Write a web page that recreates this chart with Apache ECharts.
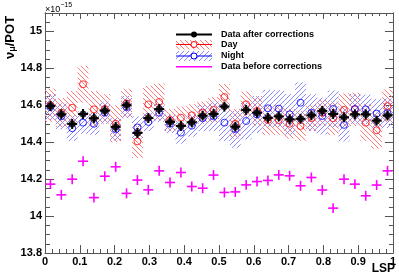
<!DOCTYPE html>
<html><head><meta charset="utf-8">
<script src="https://cdn.jsdelivr.net/npm/echarts@6/dist/echarts.min.js"></script>
<style>html,body{margin:0;padding:0;background:#fff}#c{width:399px;height:278px}</style>
</head><body><div id="c"></div>
<script>
// LSP bin centres (32 bins)
const lsp = [0.015625,0.046875,0.078125,0.109375,0.140625,0.171875,0.203125,0.234375,
  0.265625,0.296875,0.328125,0.359375,0.390625,0.421875,0.453125,0.484375,
  0.515625,0.546875,0.578125,0.609375,0.640625,0.671875,0.703125,0.734375,
  0.765625,0.796875,0.828125,0.859375,0.890625,0.921875,0.953125,0.984375];
const binHalfWidth = 1/64;
// Data after corrections (x1e-15)
const after = [14.596,14.551,14.499,14.553,14.530,14.571,14.483,14.601,14.450,14.531,14.580,14.510,
  14.488,14.508,14.544,14.553,14.593,14.484,14.575,14.560,14.532,14.540,14.524,14.527,
  14.546,14.570,14.553,14.535,14.551,14.551,14.517,14.545];
const afterErr = [0.027,0.027,0.027,0.027,0.027,0.027,0.027,0.027,0.027,0.027,0.027,0.027,
  0.027,0.027,0.027,0.027,0.027,0.027,0.027,0.027,0.027,0.027,0.027,0.027,
  0.027,0.027,0.027,0.027,0.027,0.027,0.027,0.027];
// Day
const day = [14.600,14.560,14.587,14.714,14.578,14.580,14.500,14.610,14.405,14.605,14.618,14.520,
  14.533,14.546,14.560,14.575,14.645,14.500,14.605,14.570,14.520,14.520,14.500,14.488,
  14.530,14.560,14.530,14.575,14.578,14.506,14.465,14.596];
const dayErr = [0.09,0.08,0.09,0.10,0.10,0.08,0.10,0.08,0.09,0.10,0.10,0.06,
  0.06,0.06,0.06,0.07,0.07,0.08,0.07,0.08,0.08,0.08,0.08,0.08,
  0.07,0.07,0.09,0.09,0.09,0.10,0.10,0.09];
// Night
const night = [14.590,14.540,14.476,14.506,14.500,14.560,14.470,14.590,14.480,14.510,14.560,14.500,
  14.452,14.490,14.530,14.540,14.506,14.470,14.515,14.550,14.584,14.582,14.551,14.614,
  14.560,14.542,14.580,14.494,14.580,14.578,14.555,14.557];
const nightErr = [0.07,0.07,0.07,0.06,0.06,0.06,0.06,0.06,0.06,0.05,0.05,0.05,
  0.06,0.06,0.07,0.08,0.10,0.10,0.10,0.10,0.10,0.10,0.11,0.11,
  0.10,0.10,0.10,0.09,0.08,0.08,0.08,0.08];
// Data before corrections
const before = [14.173,14.115,14.200,14.297,14.100,14.216,14.267,14.123,14.195,14.142,14.245,14.182,
  14.236,14.160,14.151,14.222,14.128,14.131,14.169,14.187,14.193,14.223,14.218,14.164,
  14.209,14.141,14.043,14.200,14.173,14.110,14.168,14.245];
const beforeErr = [0.027,0.027,0.027,0.027,0.027,0.027,0.027,0.027,0.027,0.027,0.027,0.027,
  0.027,0.027,0.027,0.027,0.027,0.027,0.027,0.027,0.027,0.027,0.027,0.027,
  0.027,0.027,0.027,0.027,0.027,0.027,0.027,0.027];
const xTicks = ['0','0.1','0.2','0.3','0.4','0.5','0.6','0.7','0.8','0.9','1'];

const FONT = "'Liberation Sans', Arial, Helvetica, sans-serif";
function hatch(color, dir) {
  const s = 5, c = document.createElement('canvas');
  c.width = s; c.height = s;
  const g = c.getContext('2d');
  g.strokeStyle = color; g.lineWidth = 1;
  g.beginPath();
  if (dir > 0) { // "/"
    g.moveTo(0, s); g.lineTo(s, 0);
    g.moveTo(-1, 1); g.lineTo(1, -1);
    g.moveTo(s - 1, s + 1); g.lineTo(s + 1, s - 1);
  } else { // "\"
    g.moveTo(0, 0); g.lineTo(s, s);
    g.moveTo(-1, s - 1); g.lineTo(1, s + 1);
    g.moveTo(s - 1, -1); g.lineTo(s + 1, 1);
  }
  g.stroke();
  return c;
}
const redHatch = {image: hatch('#ff7a7a', -1), repeat: 'repeat'};
const blueHatch = {image: hatch('#8888ff', 1), repeat: 'repeat'};

function zip3(a, b, c) { return a.map((v, i) => [v, b[i], c[i]]); }

function bandRender(pattern) {
  return function (params, api) {
    const x = api.value(0), y = api.value(1), e = api.value(2);
    const p1 = api.coord([x - binHalfWidth, y + e]);
    const p2 = api.coord([x + binHalfWidth, y - e]);
    return {type: 'rect', shape: {x: p1[0], y: p1[1], width: p2[0] - p1[0], height: p2[1] - p1[1]},
      style: {fill: pattern, stroke: null}};
  };
}
function errRender(color, lw, hx) {
  return function (params, api) {
    const x = api.value(0), y = api.value(1), e = api.value(2);
    const c = api.coord([x, y]), t = api.coord([x, y + e]), b = api.coord([x, y - e]);
    return {type: 'group', children: [
      {type: 'line', shape: {x1: c[0] - hx, y1: c[1], x2: c[0] + hx, y2: c[1]}, style: {stroke: color, lineWidth: lw}},
      {type: 'line', shape: {x1: c[0], y1: t[1], x2: c[0], y2: b[1]}, style: {stroke: color, lineWidth: lw}}
    ]};
  };
}

const axCol = '#555';
const lbl = {fontSize: 11, fontWeight: 'bold', color: '#000', fontFamily: FONT};
function yAx(pos, interval, len, labels) {
  return {type: 'value', position: pos, min: 13.8, max: 15.1, interval: interval,
    axisLine: {show: true, onZero: false, lineStyle: {color: axCol, width: 1}},
    axisTick: {show: true, inside: true, length: len, lineStyle: {color: axCol, width: 1}},
    splitLine: {show: false},
    axisLabel: labels ? Object.assign({show: true, margin: 3, showMaxLabel: false}, lbl) : {show: false}};
}
function xAx(pos, len, mlen, labels) {
  return {type: 'value', position: pos, min: 0, max: 1, interval: 0.1,
    axisLine: {show: true, onZero: false, lineStyle: {color: axCol, width: 1}},
    axisTick: {show: true, inside: true, length: len, lineStyle: {color: axCol, width: 1}},
    minorTick: {show: true, splitNumber: 5, length: mlen, lineStyle: {color: axCol, width: 1}},
    splitLine: {show: false},
    axisLabel: labels ? Object.assign({show: true, margin: 3,
      formatter: (v) => xTicks[Math.round(v * 10)]}, lbl) : {show: false}};
}

const chart = echarts.init(document.getElementById('c'), null, {renderer: 'canvas'});
const legendX1 = 176, legendX2 = 212, legendXm = 194, legendTx = 221;
chart.setOption({
  animation: false,
  backgroundColor: '#fff',
  grid: {left: 45, right: 2, top: 13, bottom: 25},
  xAxis: [xAx('bottom', 8, 4, true), xAx('top', 6, 3, false)],
  yAxis: [yAx('left', 0.2, 9, true), yAx('left', 0.05, 5, false), yAx('right', 0.2, 8, false), yAx('right', 0.05, 4, false)],
  series: [
    {type: 'custom', name: 'Day band', data: zip3(lsp, day, dayErr), renderItem: bandRender(redHatch), encode: {x: 0, y: 1}, z: 1},
    {type: 'custom', name: 'Night band', data: zip3(lsp, night, nightErr), renderItem: bandRender(blueHatch), encode: {x: 0, y: 1}, z: 2},
    {type: 'scatter', name: 'Day', data: lsp.map((x, i) => [x, day[i]]), symbol: 'circle', symbolSize: 7,
      itemStyle: {color: 'rgba(0,0,0,0)', borderColor: '#ff0000', borderWidth: 1}, z: 3},
    {type: 'scatter', name: 'Night', data: lsp.map((x, i) => [x, night[i]]), symbol: 'circle', symbolSize: 7,
      itemStyle: {color: 'rgba(0,0,0,0)', borderColor: '#0000ff', borderWidth: 1}, z: 3},
    {type: 'custom', name: 'Before', data: zip3(lsp, before, beforeErr), renderItem: errRender('#ff00ff', 1.6, 5), encode: {x: 0, y: 1}, z: 4},
    {type: 'custom', name: 'After err', data: zip3(lsp, after, afterErr), renderItem: errRender('#000', 2, 5), encode: {x: 0, y: 1}, z: 5},
    {type: 'scatter', name: 'Data after corrections', data: lsp.map((x, i) => [x, after[i]]), symbol: 'circle', symbolSize: 7,
      itemStyle: {color: '#000'}, z: 6}
  ],
  graphic: [
    // y axis title
    {type: 'text', x: 10, y: 59, rotation: Math.PI / 2,
      style: {text: '{a|ν}{b|μ}{a|/POT}', textAlign: 'left', textVerticalAlign: 'middle',
        rich: {a: {fontSize: 13, fontWeight: 'bold', fontFamily: FONT, fill: '#000', color: '#000'},
               b: {fontSize: 9, fontWeight: 'bold', fontFamily: FONT, fill: '#000', color: '#000', verticalAlign: 'bottom', padding: [6, 0, 0, 0]}}}},
    // exponent
    {type: 'text', x: 45, y: 2,
      style: {text: '{a|×10}{b|−15}', textAlign: 'left', textVerticalAlign: 'top',
        rich: {a: {fontSize: 9, fontFamily: FONT, fill: '#000', color: '#000', padding: [3, 0, 0, 0]},
               b: {fontSize: 7, fontFamily: FONT, fill: '#000', color: '#000', verticalAlign: 'top'}}}},
    // x axis title
    {type: 'text', x: 395, y: 269,
      style: {text: 'LSP', textAlign: 'right', textVerticalAlign: 'middle', font: 'bold 12px ' + FONT, fill: '#000'}},
    // legend
    {type: 'line', shape: {x1: legendX1, y1: 34.5, x2: legendX2, y2: 34.5}, style: {stroke: '#000', lineWidth: 2}},
    {type: 'circle', shape: {cx: legendXm, cy: 34.5, r: 3}, style: {fill: '#000'}},
    {type: 'text', x: legendTx, y: 34.5, style: {text: 'Data after corrections', textVerticalAlign: 'middle', font: 'bold 9px ' + FONT, fill: '#000'}},
    {type: 'rect', shape: {x: legendX1, y: 40, width: legendX2 - legendX1, height: 9.5}, style: {fill: redHatch}},
    {type: 'line', shape: {x1: legendX1, y1: 44.5, x2: legendX2, y2: 44.5}, style: {stroke: '#ff0000', lineWidth: 1.2}},
    {type: 'circle', shape: {cx: legendXm, cy: 44.5, r: 3}, style: {fill: '#fff', stroke: '#ff0000', lineWidth: 1}},
    {type: 'text', x: legendTx, y: 44.5, style: {text: 'Day', textVerticalAlign: 'middle', font: 'bold 9px ' + FONT, fill: '#000'}},
    {type: 'rect', shape: {x: legendX1, y: 51, width: legendX2 - legendX1, height: 10}, style: {fill: blueHatch}},
    {type: 'line', shape: {x1: legendX1, y1: 56, x2: legendX2, y2: 56}, style: {stroke: '#0000ff', lineWidth: 1.2}},
    {type: 'circle', shape: {cx: legendXm, cy: 56, r: 3}, style: {fill: '#fff', stroke: '#0000ff', lineWidth: 1}},
    {type: 'text', x: legendTx, y: 56, style: {text: 'Night', textVerticalAlign: 'middle', font: 'bold 9px ' + FONT, fill: '#000'}},
    {type: 'line', shape: {x1: legendX1, y1: 66.7, x2: legendX2, y2: 66.7}, style: {stroke: '#ff00ff', lineWidth: 1.6}},
    {type: 'text', x: legendTx, y: 66.7, style: {text: 'Data before corrections', textVerticalAlign: 'middle', font: 'bold 9px ' + FONT, fill: '#000'}}
  ]
});
</script>
</body></html>
